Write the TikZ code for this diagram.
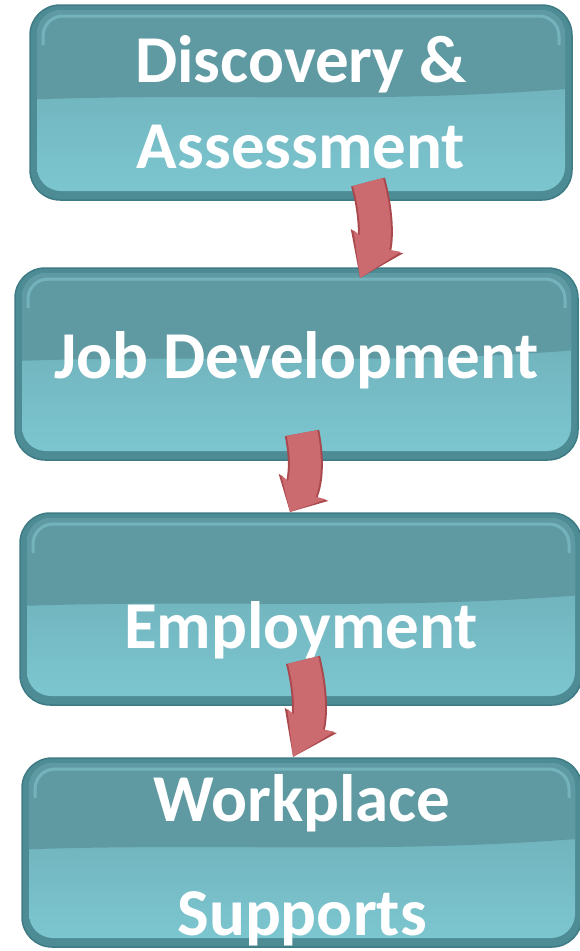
\documentclass[tikz,border=0pt]{standalone}
\usepackage{fontspec}
\setmainfont{Carlito}
\usepackage{tikz}
\usetikzlibrary{arrows.meta,positioning}

\definecolor{tealedge}{HTML}{3E7B84}
\definecolor{tealbevel}{HTML}{4D8C95}
\definecolor{tealup}{HTML}{5F9AA3}
\definecolor{tealmid}{HTML}{69A7B0}
\definecolor{teallow}{HTML}{7CC6D0}
\definecolor{tealgloss}{HTML}{8FD3DC}
\definecolor{arrowred}{HTML}{CC6B6F}
\definecolor{arrowedge}{HTML}{A9484D}

% inner glass look of a stage box
\newcommand\glossbox[1]{%
  \shade[rounded corners=24pt,top color=tealmid,bottom color=teallow]
    ([shift={(7,-5)}]#1.north west) rectangle ([shift={(-7,9)}]#1.south east);
  \begin{scope}
    \clip[rounded corners=24pt]
      ([shift={(7,-5)}]#1.north west) rectangle ([shift={(-7,9)}]#1.south east);
    \fill[tealup] (#1.north west) -- (#1.north east) -- ([yshift=14]#1.east)
      .. controls ([shift={(-200,-2)}]#1.east) and ([shift={(200,10)}]#1.west) .. ([yshift=3]#1.west) -- cycle;
  \end{scope}
  \draw[tealgloss,line width=3pt,opacity=.45,rounded corners=20pt]
    ([shift={(13,-40)}]#1.north west) |- ([shift={(-13,-11)}]#1.north east) -- ([shift={(-13,-40)}]#1.north east);
}

\begin{document}
\begin{tikzpicture}[x=1pt,y=1pt,node distance=53pt,
  stage/.style={rectangle,rounded corners=30pt,fill=tealbevel,draw=tealedge,line width=1.5pt,outer sep=0pt,inner sep=0pt},
  stagetext/.style={text=white,font=\bfseries\fontsize{67}{86}\selectfont,align=center},
  flow/.style={line width=31pt,draw=arrowred,-{Stealth[length=#1,width=50pt,inset=6pt]},
    preaction={draw=arrowedge,line width=35pt,-{Stealth[length=#1,width=56pt,inset=6pt]}}}]

  \useasboundingbox (0,0) rectangle (580,-951);

  \node[stage,minimum width=542pt,minimum height=195pt] (b1) at (301,-102.5) {};
  \node[stage,minimum width=563pt,minimum height=192pt,below=68pt of b1,xshift=-4.5pt] (b2) {};
  \node[stage,minimum width=562pt,minimum height=192pt,below=of b2,xshift=4.5pt] (b3) {};
  \node[stage,minimum width=560pt,minimum height=189pt,below=of b3,xshift=1pt] (b4) {};

  \foreach \b in {b1,b2,b3,b4} {\glossbox{\b}}

  \node[stagetext] (t1) at (b1.center) {Discovery \&\\Assessment};
  \node[stagetext] (t2) at ([yshift=4]b2.center) {Job Development};
  \node[stagetext] (t3) at ([yshift=-21]b3.center) {Employment};
  \node[stagetext] (t4) at ([yshift=-8]b4.center) {Workplace\\[28pt]Supports};

  \draw[flow=40pt] ([shift={(67,18)}]b1.south) to[bend left=20] ([shift={(63.5,-10)}]b2.north);
  \draw[flow=28pt] ([shift={(5.5,27)}]b2.south) to[bend left=20] ([shift={(-11,1)}]b3.north);
  \draw[flow=40pt] ([shift={(2,45)}]b3.south) to[bend left=20] ([shift={(-9,1)}]b4.north);
\end{tikzpicture}
\end{document}
